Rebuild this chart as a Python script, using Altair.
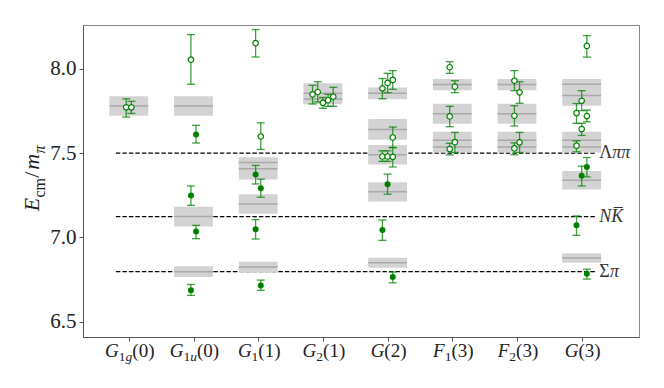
import altair as alt
import pandas as pd

# ---------------- data ----------------
categories = ["G1g(0)", "G1u(0)", "G1(1)", "G2(1)", "G(2)", "F1(3)", "F2(3)", "G(3)"]
label_letter = ["G", "G", "G", "G", "G", "F", "F", "G"]
label_sub = ["1g", "1u", "1", "2", "", "1", "2", ""]
label_arg = ["(0)", "(0)", "(1)", "(1)", "(2)", "(3)", "(3)", "(3)"]

# non-interacting levels (grey bands): category index, centre, half-height
box_cat = [0, 1, 1, 1, 2, 2, 2, 2, 3, 3, 4, 4, 4, 4, 4,
           5, 5, 5, 5, 6, 6, 6, 6, 7, 7, 7, 7, 7, 7]
box_center = [7.780, 7.780, 7.123, 6.796, 7.445, 7.407, 7.198, 6.823, 7.855, 7.821,
              7.855, 7.641, 7.490, 7.270, 6.849,
              7.907, 7.734, 7.577, 7.536, 7.907, 7.734, 7.577, 7.536,
              7.909, 7.843, 7.577, 7.536, 7.339, 6.877]
box_half = [0.058, 0.058, 0.058, 0.032, 0.031, 0.064, 0.058, 0.032, 0.060, 0.030,
            0.035, 0.062, 0.058, 0.057, 0.030,
            0.034, 0.060, 0.050, 0.032, 0.034, 0.060, 0.050, 0.032,
            0.031, 0.061, 0.050, 0.032, 0.055, 0.028]

# lattice energies: category, horizontal shift, value, low, high, open marker?
pt_cat = [0, 0,
          1, 1, 1, 1, 1,
          2, 2, 2, 2, 2, 2,
          3, 3, 3, 3, 3,
          4, 4, 4, 4, 4, 4, 4, 4, 4, 4,
          5, 5, 5, 5, 5,
          6, 6, 6, 6, 6,
          7, 7, 7, 7, 7, 7, 7, 7, 7, 7]
pt_shift = [-0.04, 0.04,
            -0.04, 0.04, -0.04, 0.04, -0.04,
            -0.04, 0.04, -0.04, 0.04, -0.04, 0.04,
            -0.16, -0.08, 0.0, 0.08, 0.16,
            -0.08, 0.0, 0.08, 0.08, -0.08, 0.0, 0.08, 0.0, -0.08, 0.08,
            -0.04, 0.04, -0.04, 0.04, -0.04,
            -0.04, 0.04, -0.04, 0.04, -0.04,
            0.08, 0.0, -0.08, 0.08, 0.0, -0.08, 0.08, 0.0, -0.08, 0.08]
pt_val = [7.772, 7.772,
          8.055, 7.611, 7.248, 7.034, 6.686,
          8.153, 7.599, 7.373, 7.292, 7.048, 6.714,
          7.849, 7.863, 7.799, 7.814, 7.835,
          7.885, 7.917, 7.935, 7.593, 7.480, 7.480, 7.478, 7.315, 7.043, 6.764,
          8.010, 7.895, 7.718, 7.565, 7.524,
          7.930, 7.861, 7.722, 7.564, 7.528,
          8.137, 7.811, 7.738, 7.720, 7.643, 7.544, 7.417, 7.365, 7.071, 6.784]
pt_lo = [7.714, 7.736,
         7.909, 7.560, 7.190, 6.992, 6.655,
         8.071, 7.522, 7.317, 7.238, 6.990, 6.685,
         7.792, 7.804, 7.766, 7.778, 7.778,
         7.823, 7.859, 7.879, 7.534, 7.451, 7.451, 7.418, 7.256, 6.982, 6.730,
         7.974, 7.859, 7.657, 7.504, 7.490,
         7.871, 7.796, 7.661, 7.504, 7.490,
         8.070, 7.752, 7.677, 7.686, 7.605, 7.508, 7.359, 7.305, 7.012, 6.752]
pt_hi = [7.823, 7.808,
         8.204, 7.665, 7.305, 7.071, 6.720,
         8.234, 7.680, 7.427, 7.345, 7.105, 6.746,
         7.903, 7.924, 7.831, 7.849, 7.891,
         7.943, 7.974, 7.990, 7.655, 7.514, 7.514, 7.532, 7.375, 7.103, 6.794,
         8.043, 7.930, 7.778, 7.623, 7.558,
         7.990, 7.924, 7.782, 7.623, 7.561,
         8.198, 7.871, 7.795, 7.756, 7.677, 7.573, 7.474, 7.423, 7.127, 6.811]
pt_open = [True, True,
           True, False, False, False, False,
           True, True, False, False, False, False,
           True, True, True, True, True,
           True, True, True, True, True, True, True, False, False, False,
           True, True, True, True, True,
           True, True, True, True, True,
           True, True, True, True, True, True, False, False, False, False]

# thresholds
thr_value = [7.500, 7.123, 6.796]
thr_upright = ["\u039b", "", "\u03a3"]
thr_italic = ["\u03c0\u03c0", "NK\u0305", "\u03c0"]

# ---------------- layout / style ----------------
W, H = 556, 312
XMIN, XMAX = -0.708, 7.886
YMIN, YMAX = 6.408, 8.261
PPU = W / (XMAX - XMIN)
FONT = "Liberation Serif"
GREEN = "#008000"
TXT = "#222222"

REG = {"(": 0.333, ")": 0.333, "/": 0.278, "c": 0.444, "m": 0.778,
       "\u039b": 0.722, "\u03a3": 0.60}
for d in "0123456789":
    REG[d] = 0.5
ITA = {"G": 0.722, "F": 0.611, "g": 0.5, "u": 0.5, "E": 0.611, "m": 0.722,
       "\u03c0": 0.55, "N": 0.667, "K": 0.667, "\u0305": 0.0}


def width(s, size, italic):
    tab = ITA if italic else REG
    return sum(tab.get(ch, 0.5) for ch in s) * size


xs = alt.Scale(domain=[XMIN, XMAX], nice=False, zero=False)
ys = alt.Scale(domain=[YMIN, YMAX], nice=False, zero=False)
xaxis = alt.Axis(values=list(range(8)), labels=False, ticks=True, tickSize=4,
                 tickColor="#555555", domainColor="#555555", grid=False, title=None)
yaxis = alt.Axis(values=[6.5, 7.0, 7.5, 8.0], format=".1f", labelFont=FONT,
                 labelFontSize=21, labelColor=TXT, labelPadding=3, tickSize=4,
                 tickColor="#555555", domainColor="#555555", grid=False, title=None)


def X(f):
    return alt.X(f, type="quantitative", scale=xs, axis=xaxis)


def Y(f):
    return alt.Y(f, type="quantitative", scale=ys, axis=yaxis)


# ---------------- tables ----------------
boxes = pd.DataFrame({"cat": box_cat, "c": box_center, "h": box_half})
boxes["x0"] = boxes["cat"] - 0.3
boxes["x1"] = boxes["cat"] + 0.3
boxes["lo"] = boxes["c"] - boxes["h"]
boxes["hi"] = boxes["c"] + boxes["h"]

pts = pd.DataFrame({"cat": pt_cat, "shift": pt_shift, "v": pt_val,
                    "lo": pt_lo, "hi": pt_hi, "open": pt_open})
pts["x"] = pts["cat"] + pts["shift"]

thr = pd.DataFrame({"v": thr_value, "up": thr_upright, "it": thr_italic})
thr["x0"] = -0.2
thr["x1"] = 7.22
LBL_SIZE = 18
thr["xu"] = 7.27
thr["xi"] = [7.27 + width(u, LBL_SIZE, False) / PPU for u in thr_upright]

# x tick label pieces
MAIN, SUB = 19, 13.5
rows = []
for i in range(len(categories)):
    pieces = [(label_letter[i], MAIN, True)]
    for ch in label_sub[i]:
        pieces.append((ch, SUB, not ch.isdigit()))
    pieces.append((label_arg[i], MAIN, False))
    total = sum(width(t, s, it) for t, s, it in pieces)
    pos = -total / 2 + 1
    for t, s, it in pieces:
        kind = ("main" if s == MAIN else "sub") + ("_it" if it else "_reg")
        rows.append({"t": t, "x": i + pos / PPU, "kind": kind})
        pos += width(t, s, it)
lab = pd.DataFrame(rows)

# ---------------- layers ----------------
thr_rules = alt.Chart(thr).mark_rule(color="black", strokeWidth=1.2, strokeDash=[4.5, 2]).encode(
    x=X("x0"), x2="x1", y=Y("v"))

thr_up = alt.Chart(thr).mark_text(align="left", baseline="middle", font=FONT,
                                  fontSize=LBL_SIZE, color="#333333").encode(
    x=X("xu"), y=Y("v"), text="up:N")
thr_it = alt.Chart(thr).mark_text(align="left", baseline="middle", font=FONT,
                                  fontSize=LBL_SIZE, fontStyle="italic", color="#333333").encode(
    x=X("xi"), y=Y("v"), text="it:N")

rects = alt.Chart(boxes).mark_rect(color="#d3d3d3", opacity=1).encode(
    x=X("x0"), x2="x1", y=Y("lo"), y2="hi")
centers = alt.Chart(boxes).mark_rule(color="#a9a9a9", strokeWidth=1.5).encode(
    x=X("x0"), x2="x1", y=Y("c"))

bars = alt.Chart(pts).mark_rule(color=GREEN, strokeWidth=1.3, opacity=0.75).encode(
    x=X("x"), y=Y("lo"), y2="hi")
cap_lo = alt.Chart(pts).mark_tick(orient="horizontal", size=8, thickness=1.3,
                                  color=GREEN, opacity=0.75).encode(x=X("x"), y=Y("lo"))
cap_hi = alt.Chart(pts).mark_tick(orient="horizontal", size=8, thickness=1.3,
                                  color=GREEN, opacity=0.75).encode(x=X("x"), y=Y("hi"))

open_pts = alt.Chart(pts).transform_filter("datum.open").mark_circle(
    fill="white", stroke=GREEN, strokeWidth=1.2, size=30, opacity=1).encode(x=X("x"), y=Y("v"))
full_pts = alt.Chart(pts).transform_filter("!datum.open").mark_circle(
    color=GREEN, size=36, opacity=1).encode(x=X("x"), y=Y("v"))

BASE_Y = 332
text_layers = []
for kind, size, italic, dy in [("main_it", MAIN, True, 0), ("main_reg", MAIN, False, 0),
                               ("sub_it", SUB, True, 4), ("sub_reg", SUB, False, 4)]:
    sub = lab[lab["kind"] == kind]
    if len(sub) == 0:
        continue
    kw = dict(align="left", baseline="alphabetic", font=FONT, fontSize=size, color=TXT)
    if italic:
        kw["fontStyle"] = "italic"
    text_layers.append(alt.Chart(sub).mark_text(**kw).encode(
        x=X("x"), y=alt.value(BASE_Y + dy), text="t:N"))

# y title pieces (rotated): text, size, italic, baseline shift, advance (em)
ytitle_pieces = [("E", 22, True, 0, 0.63), ("cm", 16, False, 6, 1.24),
                 ("/", 22, False, 0, 0.36), ("m", 22, True, 0, 0.74),
                 ("\u03c0", 16, True, 6, 0.55)]
tot = sum(s * adv for t, s, it, _, adv in ytitle_pieces)
ypos = 153 + tot / 2
YT_X = -44
for t, s, it, dx, adv in ytitle_pieces:
    kw = dict(align="left", baseline="alphabetic", font=FONT, fontSize=s, color=TXT, angle=270)
    if it:
        kw["fontStyle"] = "italic"
    text_layers.append(alt.Chart(pd.DataFrame({"t": [t]})).mark_text(**kw).encode(
        x=alt.value(YT_X + dx), y=alt.value(ypos), text="t:N"))
    ypos -= s * adv

chart = alt.layer(
    thr_rules, rects, centers, bars, cap_lo, cap_hi, open_pts, full_pts,
    thr_up, thr_it, *text_layers
).properties(
    width=W, height=H,
    autosize=alt.AutoSizeParams(type="none"),
    padding={"left": 75, "top": 17, "right": 17, "bottom": 43},
).configure_view(stroke="#888888", strokeWidth=1).configure_axis(domainWidth=1)

chart.save("out.html", embed_options={"renderer": "svg", "actions": False})
